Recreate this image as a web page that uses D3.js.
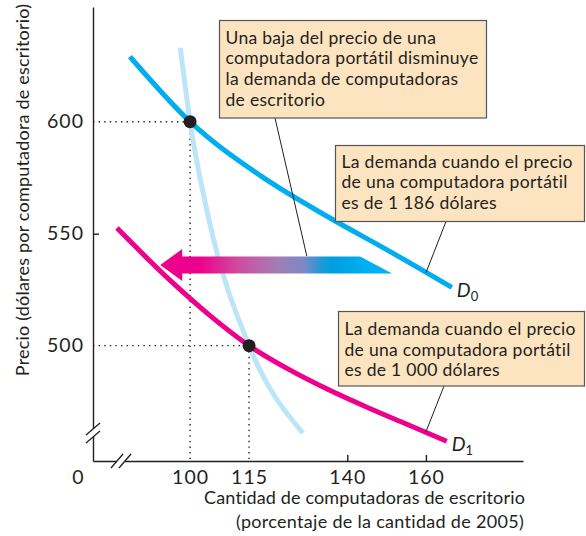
<!DOCTYPE html>
<html>
<head>
<meta charset="utf-8">
<script src="https://cdn.jsdelivr.net/npm/d3@7/dist/d3.min.js"></script>
<style>
  body { margin: 0; background: #fff; }
  text { font-family: Lato, "Open Sans", sans-serif; fill: #231f20; }
</style>
</head>
<body>
<svg id="chart" width="586" height="536"></svg>
<script>
// values: quantity (% of 2005) and price (dollars)
var d0Qty = [84.7, 100, 117.8, 135.6, 150.9, 166.6];
var d0Price = [629, 600, 576, 557, 542, 526];
var d1Qty = [81.4, 95, 105, 115, 125, 135, 145, 155, 165.3];
var d1Price = [552.5, 529, 513.5, 500, 489.5, 480.5, 472.5, 465, 457.3];
var paleQty = [97.5, 100, 105.1, 115, 128.7];
var palePrice = [633, 600, 554, 500, 461];
var pointQty = [100, 115];
var pointPrice = [600, 500];
var xTicks = [100, 115, 140, 160];
var yTicks = [500, 550, 600];
var arrowQty = [151.4, 92.4];
var arrowPrice = 536;

var box1Lines = ["Una baja del precio de una", "computadora portátil disminuye", "la demanda de computadoras", "de escritorio"];
var box2Lines = ["La demanda cuando el precio", "de una computadora portátil", "es de 1 186 dólares"];
var box3Lines = ["La demanda cuando el precio", "de una computadora portátil", "es de 1 000 dólares"];

var svg = d3.select("#chart");
var ink = "#231f20";

var x = d3.scaleLinear().domain([75.3, 184.7]).range([93, 523]);
var y = d3.scaleLinear().domain([448.5, 651.2]).range([461, 7]);

function zip(q, p) { return q.map(function(v, i) { return [v, p[i]]; }); }

var line = d3.line()
    .x(function(d) { return x(d[0]); })
    .y(function(d) { return y(d[1]); })
    .curve(d3.curveMonotoneX);

// dotted guides
pointQty.forEach(function(q, i) {
    var p = pointPrice[i];
    svg.append("line").attr("x1", x.range()[0]).attr("x2", x(q)).attr("y1", y(p)).attr("y2", y(p))
        .attr("stroke", ink).attr("stroke-width", 1.4).attr("stroke-dasharray", "1.4,4.2");
    svg.append("line").attr("x1", x(q)).attr("x2", x(q)).attr("y1", y(p)).attr("y2", y.range()[0])
        .attr("stroke", ink).attr("stroke-width", 1.4).attr("stroke-dasharray", "1.4,4.2");
});

// axes
var yAxis = svg.append("g").attr("transform", "translate(" + x.range()[0] + ",0)")
    .call(d3.axisLeft(y).tickValues(yTicks).tickSize(-6).tickSizeOuter(0).tickPadding(9));
var xAxis = svg.append("g").attr("transform", "translate(0," + y.range()[0] + ")")
    .call(d3.axisBottom(x).tickValues(xTicks).tickSize(-6).tickSizeOuter(0).tickPadding(9));
[xAxis, yAxis].forEach(function(g) {
    g.select(".domain").attr("stroke", ink).attr("stroke-width", 1.4);
    g.selectAll(".tick line").attr("stroke", ink).attr("stroke-width", 1.4)
        .attr("opacity", function(d) { return pointQty.indexOf(d) >= 0 || pointPrice.indexOf(d) >= 0 ? 0 : 1; });
    g.selectAll(".tick text").attr("font-size", 19.5).attr("letter-spacing", 1)
        .attr("font-family", "Lato, sans-serif").attr("fill", ink);
});
svg.append("text").attr("x", 78).attr("y", 484).attr("text-anchor", "middle").attr("font-size", 19.5).text("0");

// axis breaks
function brk(cx, cy, vertical) {
    var g = svg.append("g");
    if (vertical) {
        g.append("rect").attr("x", cx - 3).attr("y", cy - 4).attr("width", 6).attr("height", 8).attr("fill", "#fff");
        [-4, 4].forEach(function(o) {
            g.append("line").attr("x1", cx - 7).attr("y1", cy + o + 6).attr("x2", cx + 7).attr("y2", cy + o - 6)
                .attr("stroke", ink).attr("stroke-width", 1.3);
        });
    } else {
        g.append("rect").attr("x", cx - 4).attr("y", cy - 3).attr("width", 8).attr("height", 6).attr("fill", "#fff");
        [-4, 4].forEach(function(o) {
            g.append("line").attr("x1", cx + o - 6).attr("y1", cy + 7).attr("x2", cx + o + 6).attr("y2", cy - 7)
                .attr("stroke", ink).attr("stroke-width", 1.3);
        });
    }
}
brk(x.range()[0], 433, true);
brk(121, y.range()[0], false);

// axis titles
svg.append("text").attr("transform", "translate(29,190) rotate(-90)").attr("text-anchor", "middle")
    .attr("font-size", 18).attr("letter-spacing", 0.2).text("Precio (dólares por computadora de escritorio)");
svg.append("text").attr("x", 525).attr("y", 504).attr("text-anchor", "end").attr("font-size", 18)
    .attr("letter-spacing", 0.15).text("Cantidad de computadoras de escritorio");
svg.append("text").attr("x", 524).attr("y", 528).attr("text-anchor", "end").attr("font-size", 18)
    .attr("letter-spacing", 0.3).text("(porcentaje de la cantidad de 2005)");

// curves
svg.append("path").datum(zip(paleQty, palePrice)).attr("d", line)
    .attr("fill", "none").attr("stroke", "#bde5f8").attr("stroke-width", 5);
svg.append("path").datum(zip(d0Qty, d0Price)).attr("d", line)
    .attr("fill", "none").attr("stroke", "#00aeef").attr("stroke-width", 5);
svg.append("path").datum(zip(d1Qty, d1Price)).attr("d", line)
    .attr("fill", "none").attr("stroke", "#ec008c").attr("stroke-width", 5);

// shift arrow with magenta-to-blue gradient
var ax0 = x(arrowQty[1]), ax1 = x(arrowQty[0]), ay = y(arrowPrice);
var grad = svg.append("defs").append("linearGradient").attr("id", "shift")
    .attr("gradientUnits", "userSpaceOnUse").attr("x1", ax0).attr("x2", ax1).attr("y1", 0).attr("y2", 0);
[[0, "#ec008c"], [0.17, "#ec008c"], [0.33, "#d14a9e"], [0.5, "#a57cb4"], [0.62, "#7a8ac6"],
 [0.7, "#1a9ad8"], [0.74, "#009fdf"], [0.84, "#00a9e8"], [0.88, "#00b0ef"], [1, "#00b0ef"]]
    .forEach(function(s) { grad.append("stop").attr("offset", s[0]).attr("stop-color", s[1]); });
svg.append("path")
    .attr("d", "M" + ax0 + "," + ay + "L" + (ax0 + 22) + "," + (ay - 16) + "L" + (ax0 + 22) + "," + (ay - 8.5) +
        "L" + (ax1 - 32) + "," + (ay - 8.5) + "L" + ax1 + "," + (ay + 8.5) + "L" + (ax0 + 22) + "," + (ay + 8.5) +
        "L" + (ax0 + 22) + "," + (ay + 16) + "Z")
    .attr("fill", "url(#shift)");

// equilibrium points
svg.selectAll(".pt").data(zip(pointQty, pointPrice)).enter().append("circle")
    .attr("cx", function(d) { return x(d[0]); }).attr("cy", function(d) { return y(d[1]); })
    .attr("r", 6.5).attr("fill", ink);

// curve labels
function curveLabel(q, p, sub) {
    var t = svg.append("text").attr("x", x(q) + 5).attr("y", y(p) + 10).attr("font-size", 19.5)
        .attr("font-style", "italic");
    t.append("tspan").text("D");
    t.append("tspan").attr("font-size", 13).attr("font-style", "normal").attr("dy", 4).text(sub);
}
curveLabel(d0Qty[5], d0Price[5], "0");
curveLabel(d1Qty[8], d1Price[8], "1");

// annotation boxes with leader lines
function note(bx, by, bw, bh, lines, first, lead, target) {
    svg.append("line").attr("x1", lead[0]).attr("y1", lead[1]).attr("x2", x(target[0])).attr("y2", y(target[1]))
        .attr("stroke", ink).attr("stroke-width", 1);
    svg.append("rect").attr("x", bx).attr("y", by).attr("width", bw).attr("height", bh)
        .attr("fill", "#fde4c0").attr("stroke", "#555").attr("stroke-width", 1.2);
    svg.append("g").selectAll("text").data(lines).enter().append("text")
        .attr("x", bx + 6).attr("y", function(d, i) { return by + first + i * 20.7; })
        .attr("font-size", 17.5).attr("letter-spacing", 0.3).text(function(d) { return d; });
}
note(219.5, 20.5, 267, 97.5, box1Lines, 23, [275, 118], [129.7, 540]);
note(335.5, 145.5, 249, 76, box2Lines, 22, [446, 221.5], [160, 532.5]);
note(338.5, 311.5, 246, 74.5, box3Lines, 23.5, [444, 386], [160, 461.5]);
</script>
</body>
</html>
